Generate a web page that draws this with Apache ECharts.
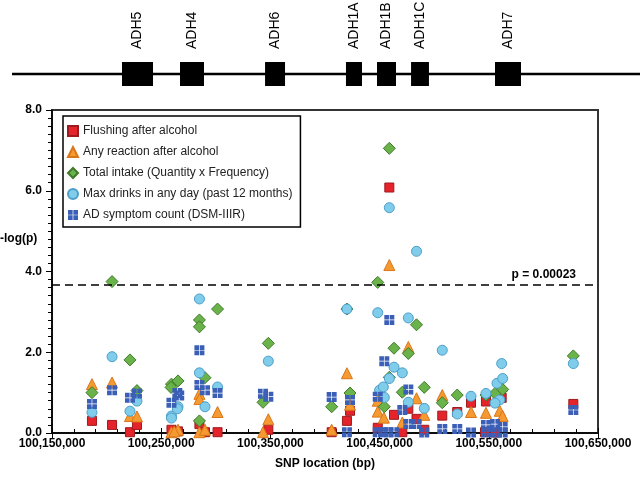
<!DOCTYPE html>
<html>
<head>
<meta charset="utf-8">
<script src="https://cdn.jsdelivr.net/npm/echarts@6/dist/echarts.min.js"></script>
<style>
html,body{margin:0;padding:0;background:#fff;}
#chart{width:640px;height:477px;}
</style>
</head>
<body>
<div id="chart"></div>
<script>
// ---- gene map ----
const geneNames = ['ADH5','ADH4','ADH6','ADH1A','ADH1B','ADH1C','ADH7'];
const geneStart = [100214100,100267200,100345100,100419200,100447600,100478800,100555700];
const geneEnd   = [100242500,100289200,100363400,100433900,100465000,100495200,100579500];
const backbone  = [100113400,100688500];

// ---- axis ticks ----
const xTickMin = 100150000, xTickMax = 100650000, xTickStep = 100000;
const yTickMin = 0, yTickMax = 8, yTickStep = 2;
const yAxisTitle = '-log(p)';
const xAxisTitle = 'SNP location (bp)';
const thresholdValue = 3.68;
const thresholdLabel = 'p = 0.00023';

// ---- series: [SNP location (bp), -log(p)] ----
const flushing = [
 [100186600,0.30],[100205000,0.20],[100221400,0.02],[100227800,0.20],[100259400,0.08],
 [100265400,0.04],[100285000,0.22],[100290100,0.02],[100301600,0.02],[100348100,0.08],
 [100406100,0.02],[100420100,0.30],[100422900,0.55],[100448300,0.13],[100458900,6.08],
 [100463200,0.45],[100470800,0.02],[100476300,0.60],[100483800,0.35],[100490900,0.08],
 [100507400,0.43],[100521100,0.52],[100533700,0.75],[100547400,0.78],[100546500,0.02],
 [100561800,0.87],[100555700,0.01],[100627400,0.72]
];
const anyReaction = [
 [100186600,1.21],[100205000,1.25],[100221400,0.42],[100227800,0.41],[100259400,0.02],
 [100265400,0.08],[100262000,0.04],[100285000,0.97],[100285000,0.84],[100285000,0.02],
 [100290100,0.08],[100301600,0.52],[100343200,0.02],[100348100,0.34],[100406100,0.08],
 [100420100,1.48],[100422900,0.70],[100448300,0.80],[100448300,0.53],[100453900,0.38],
 [100458900,4.16],[100470800,0.26],[100476300,2.13],[100483800,0.86],[100490900,0.45],
 [100507400,0.94],[100533700,0.52],[100547400,0.50],[100561800,1.16],[100560000,0.55],
 [100562700,0.42]
];
const totalIntake = [
 [100186600,1.00],[100205000,3.75],[100221400,1.81],[100227800,1.05],[100259400,1.21],
 [100259000,1.13],[100265400,1.29],[100285000,2.80],[100285000,2.63],[100285000,0.30],
 [100290100,1.37],[100301600,3.07],[100343200,0.76],[100348100,2.22],[100406100,0.65],
 [100420100,3.07],[100422900,0.99],[100448300,3.73],[100454300,0.65],[100458900,7.05],
 [100458900,1.38],[100463200,2.10],[100470800,1.01],[100476300,1.97],[100483800,2.68],
 [100490900,1.13],[100507400,0.75],[100521100,0.94],[100547400,0.94],[100555700,0.98],
 [100562700,1.08],[100627400,1.91]
];
const maxDrinks = [
 [100186600,0.51],[100205000,1.89],[100221400,0.54],[100227800,0.79],[100259400,0.42],
 [100259400,0.37],[100265400,0.65],[100264800,0.60],[100285000,3.32],[100285000,1.49],
 [100290100,0.65],[100301600,1.14],[100348100,1.78],[100420100,3.07],[100448300,2.98],
 [100450000,1.06],[100453400,1.14],[100454300,0.88],[100458900,5.58],[100458900,1.35],
 [100463200,1.63],[100470800,1.49],[100476300,2.85],[100476300,0.76],[100483800,4.50],
 [100490900,0.61],[100507400,2.05],[100521100,0.47],[100533700,0.91],[100547400,0.98],
 [100557500,1.23],[100562700,1.35],[100561800,1.72],[100560000,0.82],[100555700,0.74],
 [100627400,1.72]
];
const adSymptoms = [
 [100186600,0.72],[100205000,1.06],[100221400,0.87],[100227800,0.98],[100259400,0.75],
 [100264800,0.99],[100266500,0.93],[100285000,2.05],[100285000,1.19],[100290100,1.06],
 [100301600,0.99],[100343200,0.97],[100348100,0.90],[100406100,0.89],[100420100,0.02],
 [100422900,0.82],[100448300,0.90],[100448300,0.02],[100454300,1.78],[100453400,0.02],
 [100458900,2.80],[100457700,0.02],[100463200,0.02],[100470800,0.57],[100476300,1.08],
 [100476300,0.22],[100483800,0.22],[100490900,0.01],[100507400,0.10],[100521100,0.10],
 [100533700,0.01],[100547400,0.20],[100547400,0.01],[100555700,0.22],[100562700,0.15],
 [100557500,0.01],[100562700,0.01],[100627400,0.57]
];

const FONT = '"Liberation Sans", Arial, sans-serif';
const crossSquare = 'path://M0,0H9.3V9.3H0Z M10.7,0H20V9.3H10.7Z M0,10.7H9.3V20H0Z M10.7,10.7H20V20H10.7Z';

// layout of the plot frame (pixels)
const W = 640, H = 477;
const plotLeft = 52, plotRight = 42, plotTop = 110, plotBottom = 44;
const bpPerPx = (xTickMax - xTickMin) / (W - plotLeft - plotRight);

const chart = echarts.init(document.getElementById('chart'), null, {renderer:'canvas', width:W, height:H});

function fmtBp(v){ return String(Math.round(v)).replace(/\B(?=(\d{3})+(?!\d))/g, ','); }

const option = {
  animation:false,
  backgroundColor:'#fff',
  textStyle:{fontFamily:FONT},
  graphic:[
    {type:'text', left:0, top:233, silent:true,
     style:{text:yAxisTitle, font:'bold 12px "Liberation Sans", Arial, sans-serif', fill:'#000'}}
  ],
  grid:[
    {left:plotLeft, right:plotRight, top:plotTop, bottom:plotBottom, show:true,
     borderColor:'#333', borderWidth:2, backgroundColor:'transparent',
     containLabel:false, outerBoundsMode:'none'},
    {left:0, right:0, top:62, height:24, show:false, containLabel:false, outerBoundsMode:'none'}
  ],
  legend:{
    left:63, top:116, orient:'vertical',
    padding:[9,8,6,4], itemGap:9, itemWidth:10, itemHeight:10,
    borderColor:'#000', borderWidth:1.5, backgroundColor:'#fff',
    textStyle:{fontFamily:FONT, fontSize:12, lineHeight:12, color:'#222'},
    data:['Flushing after alcohol','Any reaction after alcohol','Total intake (Quantity x Frequency)','Max drinks in any day (past 12 months)','AD symptom count (DSM-IIIR)']
  },
  xAxis:[
    {gridIndex:0, type:'value', min:xTickMin, max:xTickMax, interval:xTickStep,
     axisLine:{show:true, onZero:false, lineStyle:{color:'#000', width:1.5}},
     axisTick:{show:true, inside:true, length:5, lineStyle:{color:'#000', width:1}},
     minorTick:{show:true, splitNumber:5, length:4, lineStyle:{color:'#000', width:1}},
     axisLabel:{show:true, margin:5, fontFamily:FONT, fontWeight:'bold', fontSize:12, color:'#000', formatter:fmtBp},
     splitLine:{show:false},
     name:xAxisTitle, nameLocation:'middle', nameGap:25,
     nameTextStyle:{fontFamily:FONT, fontWeight:'bold', fontSize:12, color:'#000'}},
    {gridIndex:0, type:'value', min:xTickMin, max:xTickMax, interval:xTickStep, position:'bottom',
     axisLine:{show:false}, axisTick:{show:true, inside:false, length:5, lineStyle:{color:'#000', width:1}},
     axisLabel:{show:false}, splitLine:{show:false}},
    {gridIndex:1, type:'value', min:xTickMin - plotLeft * bpPerPx, max:xTickMax + plotRight * bpPerPx, show:false}
  ],
  yAxis:[
    {gridIndex:0, type:'value', min:yTickMin, max:yTickMax, interval:yTickStep,
     axisLine:{show:true, lineStyle:{color:'#000', width:1.5}},
     axisTick:{show:true, inside:false, length:6, lineStyle:{color:'#000', width:1}},
     minorTick:{show:true, splitNumber:10, length:4, lineStyle:{color:'#000', width:1}},
     axisLabel:{margin:10, fontFamily:FONT, fontWeight:'bold', fontSize:12, color:'#000', formatter:function(v){return v.toFixed(1);}},
     splitLine:{show:false}},
    {gridIndex:1, type:'value', min:0, max:1, show:false}
  ],
  series:[
    {type:'line', xAxisIndex:2, yAxisIndex:1, data:[[backbone[0],0.5],[backbone[1],0.5]],
     symbol:'none', clip:false, silent:true, z:1, lineStyle:{color:'#000', width:2.5}},
    {type:'custom', xAxisIndex:2, yAxisIndex:1, z:2, clip:false, silent:true,
     data:geneStart.map(function(s,i){return [s, geneEnd[i]];}),
     renderItem:function(params, api){
       var a = api.coord([api.value(0), 1]);
       var b = api.coord([api.value(1), 0]);
       var name = geneNames[params.dataIndex];
       return {type:'group', children:[
         {type:'rect', shape:{x:a[0], y:a[1], width:b[0]-a[0], height:b[1]-a[1]}, style:{fill:'#000'}},
         {type:'text', x:(a[0]+b[0])/2, y:a[1]-13, rotation:Math.PI/2,
          style:{text:name, font:'14px "Liberation Sans", Arial, sans-serif', fill:'#000', align:'left', verticalAlign:'middle'}}
       ]};
     }},
    {name:'Flushing after alcohol', type:'scatter', xAxisIndex:0, yAxisIndex:0, data:flushing,
     symbol:'rect', symbolSize:9, itemStyle:{color:'#e5232a', borderColor:'#9e1a1f', borderWidth:1, opacity:1},
     markLine:{silent:true, symbol:'none', animation:false,
       lineStyle:{color:'#000', width:1.5, type:[8,5]},
       label:{show:true, formatter:thresholdLabel, position:'insideEndTop', distance:[22,4],
              fontFamily:FONT, fontWeight:'bold', fontSize:12, color:'#000'},
       data:[{yAxis:thresholdValue}]}},
    {name:'Any reaction after alcohol', type:'scatter', xAxisIndex:0, yAxisIndex:0, data:anyReaction,
     symbol:'triangle', symbolSize:11, itemStyle:{color:'#f59a30', borderColor:'#d9761a', borderWidth:1, opacity:1}},
    {name:'Total intake (Quantity x Frequency)', type:'scatter', xAxisIndex:0, yAxisIndex:0, data:totalIntake,
     symbol:'diamond', symbolSize:12, itemStyle:{color:'#6ab34a', borderColor:'#3f7a2a', borderWidth:1, opacity:1}},
    {name:'Max drinks in any day (past 12 months)', type:'scatter', xAxisIndex:0, yAxisIndex:0, data:maxDrinks,
     symbol:'circle', symbolSize:10, itemStyle:{color:'#7fcdea', borderColor:'#4d9fc9', borderWidth:1, opacity:1}},
    {name:'AD symptom count (DSM-IIIR)', type:'scatter', xAxisIndex:0, yAxisIndex:0, data:adSymptoms,
     symbol:crossSquare, symbolSize:10, itemStyle:{color:'#3b5fb6', borderWidth:0, opacity:1}}
  ]
};
chart.setOption(option);
</script>
</body>
</html>
